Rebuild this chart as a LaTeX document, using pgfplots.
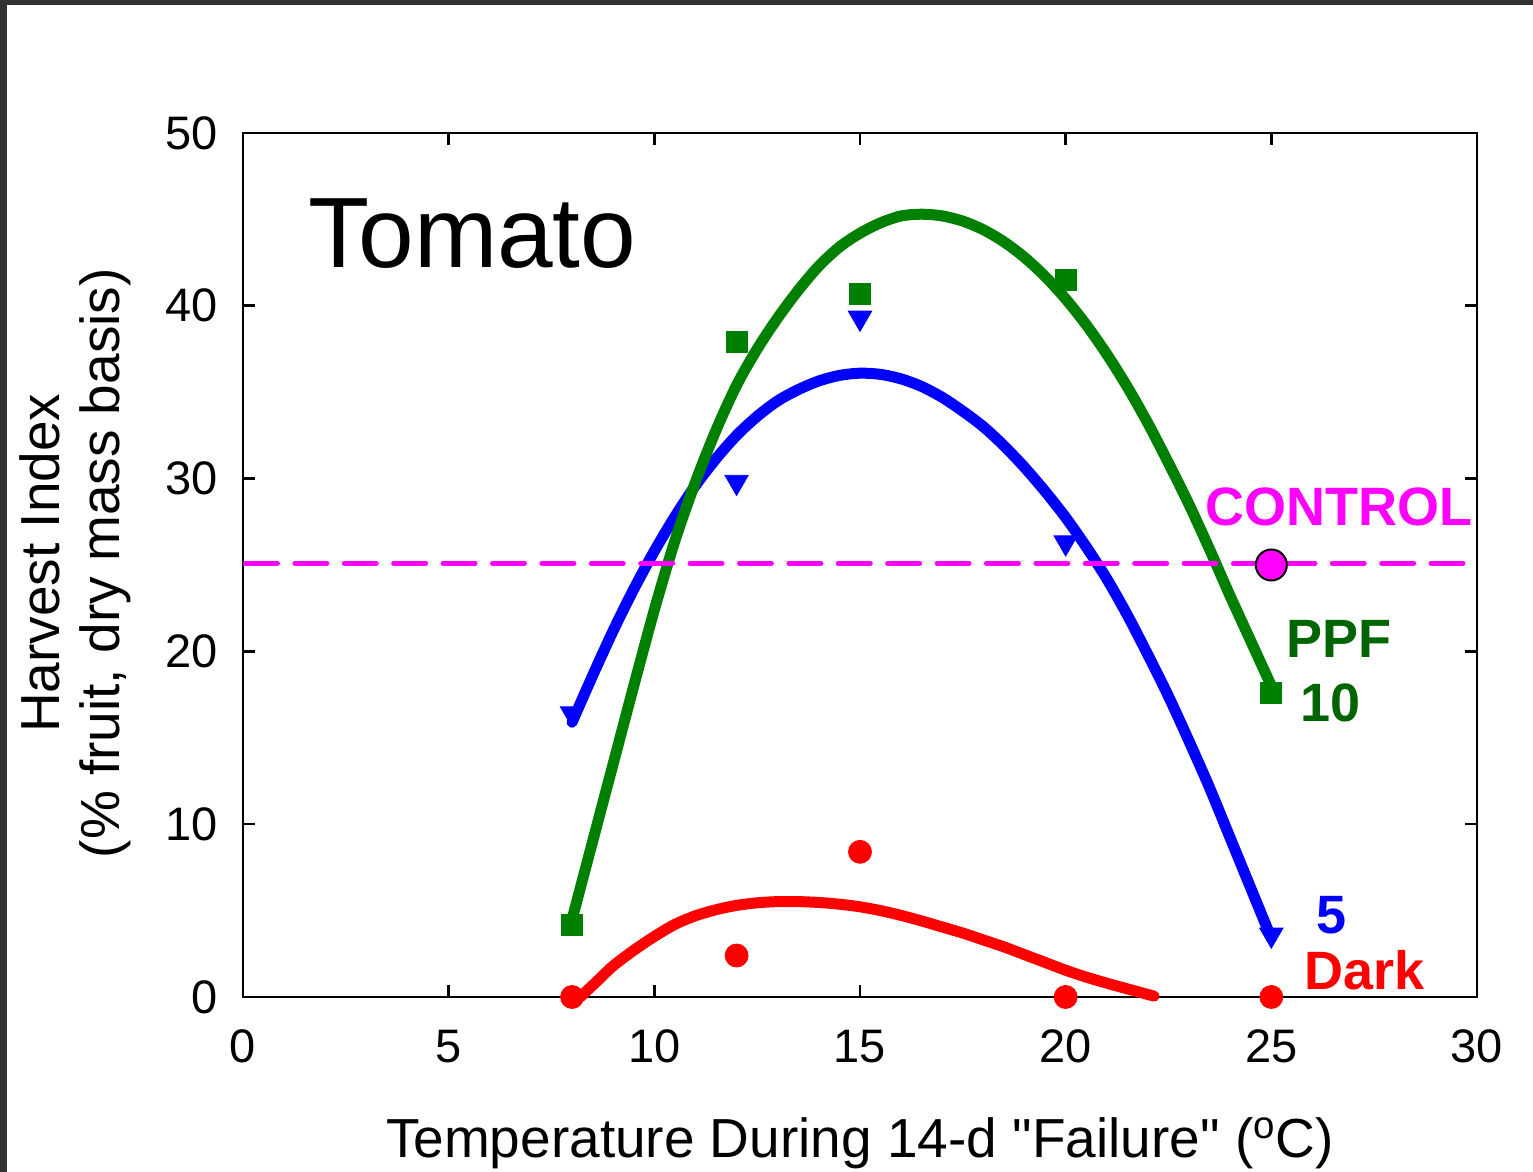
\documentclass[border=0pt]{standalone}
\usepackage{pgfplots}
\pgfplotsset{compat=1.18}
\usepackage{fontspec}
\setmainfont{Liberation Sans}
\newfontfamily\plainfont{Liberation Sans}
\definecolor{pgreen}{RGB}{0,128,0}
\definecolor{dgreen}{RGB}{0,100,0}
\definecolor{pblue}{RGB}{0,0,255}
\definecolor{pred}{RGB}{255,0,0}
\definecolor{mag}{RGB}{255,0,255}
\definecolor{framegray}{RGB}{51,51,51}
\begin{document}
\begin{tikzpicture}
\begin{axis}[
  at={(0,0)}, anchor=south west,
  scale only axis, width=617pt, height=432pt,
  xmin=0, xmax=30, ymin=0, ymax=50,
  xtick={0,5,...,30}, ytick={0,10,...,50},
  tick align=inside, tick pos=both,
  major tick length=6pt,
  axis line style={line width=1.3pt},
  tick style={black, line width=1.3pt},
  /pgf/number format/assume math mode=true,
  ticklabel style={font=\fontsize{23.5}{28}\selectfont},
  xticklabel style={anchor=base, yshift=-33pt},
  yticklabel style={anchor=east, inner sep=0pt, xshift=-12.5pt},
  xlabel={Temperature During 14-d {\plainfont"}Failure{\plainfont"} (\textsuperscript{o}C)},
  xlabel style={at={(axis description cs:0.5,-0.1852)}, anchor=base, inner sep=0pt, font=\fontsize{27.5}{33}\selectfont},
  ylabel={Harvest Index\\(\% fruit, dry mass basis)},
  ylabel style={at={(axis description cs:-0.1361,0.502)}, anchor=center, align=center, font=\fontsize{27.5}{30}\selectfont},
  clip=false,
]
% data points
\addplot[only marks, mark=square*, mark size=5.25pt, color=pgreen]
  coordinates {(8,4.2) (12,37.9) (15,40.7) (20,41.5) (25,17.6)};
\addplot[only marks, mark=triangle*, mark size=6.75pt, color=pblue, mark options={rotate=180}]
  coordinates {(8,16.4) (12,29.8) (15,39.3) (20,26.3) (25,3.6)};
\addplot[only marks, mark=*, mark size=5.75pt, color=pred]
  coordinates {(8,0) (12,2.4) (15,8.4) (20,0) (25,0)};
% fitted curves
\addplot[pblue, line width=5.5pt, line cap=round, smooth] coordinates {
 (8,15.9) (8.5,18.6) (9,21.2) (9.5,23.6) (10,25.8) (10.5,27.8) (11,29.6) (11.5,31.15)
 (12,32.5) (12.5,33.6) (13,34.5) (13.5,35.15) (14,35.65) (14.5,35.97) (15,36.1)
 (15.5,36.03) (16,35.77) (16.5,35.33) (17,34.7) (17.5,33.9) (18,33.0) (18.5,31.9)
 (19,30.65) (19.5,29.26) (20,27.75) (20.5,26.05) (21,24.2) (21.5,22.1) (22,19.8)
 (22.5,17.4) (23,14.8) (23.5,12.1) (24,9.2) (24.5,6.3) (25,3.4)};
\addplot[pgreen, line width=5.5pt, line cap=round, smooth] coordinates {
 (8,4.5) (8.5,9.0) (9,13.5) (9.5,18.0) (10,22.4) (10.5,26.4) (11,29.8) (11.5,32.8)
 (12,35.4) (12.5,37.5) (13,39.3) (13.5,40.9) (14,42.3) (14.5,43.4) (15,44.2)
 (15.5,44.8) (16,45.2) (16.5,45.3) (17,45.2) (17.5,44.9) (18,44.4) (18.5,43.7)
 (19,42.8) (19.5,41.7) (20,40.4) (20.5,38.9) (21,37.2) (21.5,35.3) (22,33.2)
 (22.5,30.9) (23,28.5) (23.5,25.9) (24,23.2) (24.5,20.6) (25,18.0)};
\addplot[pred, line width=5.5pt, line cap=round, smooth] coordinates {
 (8.2,0.0) (8.6,0.9) (9,1.8) (9.5,2.7) (10,3.5) (10.5,4.2) (11,4.7) (11.5,5.05)
 (12,5.3) (12.5,5.45) (13,5.52) (13.5,5.52) (14,5.47) (14.5,5.37) (15,5.22)
 (15.5,5.0) (16,4.72) (16.5,4.4) (17,4.05) (17.5,3.7) (18,3.3) (18.5,2.9)
 (19,2.45) (19.5,2.0) (20,1.55) (20.5,1.15) (21,0.8) (21.5,0.47) (22.15,0.05)};
% control
\addplot[mag, line width=2.5pt, line cap=round, dash pattern=on 16pt off 8.7pt]
  coordinates {(0.06,25.1) (29.7,25.1)};
\addplot[only marks, mark=*, mark size=7.75pt, mark options={fill=mag, draw=black, line width=1pt}]
  coordinates {(25,25)};
% text
\node[anchor=base west, inner sep=0pt, font=\fontsize{50}{60}\selectfont] at (axis cs:1.58,42.19) {Tomato};
\node[anchor=base west, inner sep=0pt, font=\fontsize{27}{32}\selectfont\bfseries, text=mag] at (axis cs:23.39,27.26) {CONTROL};
\node[anchor=base west, inner sep=0pt, font=\fontsize{27}{32}\selectfont\bfseries, text=dgreen] at (axis cs:25.36,19.62) {PPF};
\node[anchor=base west, inner sep=0pt, font=\fontsize{27}{32}\selectfont\bfseries, text=dgreen] at (axis cs:25.70,15.94) {10};
\node[anchor=base west, inner sep=0pt, font=\fontsize{27}{32}\selectfont\bfseries, text=pblue] at (axis cs:26.09,3.70) {5};
\node[anchor=base west, inner sep=0pt, font=\fontsize{27}{32}\selectfont\bfseries, text=pred] at (axis cs:25.80,0.46) {Dark};
\end{axis}
\fill[framegray] (-121.5pt,498.5pt) rectangle (645pt,496pt);
\fill[framegray] (-121.5pt,498.5pt) rectangle (-118pt,-87.5pt);
\pgfresetboundingbox
\useasboundingbox (-121.5pt,-87.5pt) rectangle (645pt,498.5pt);
\end{tikzpicture}
\end{document}
